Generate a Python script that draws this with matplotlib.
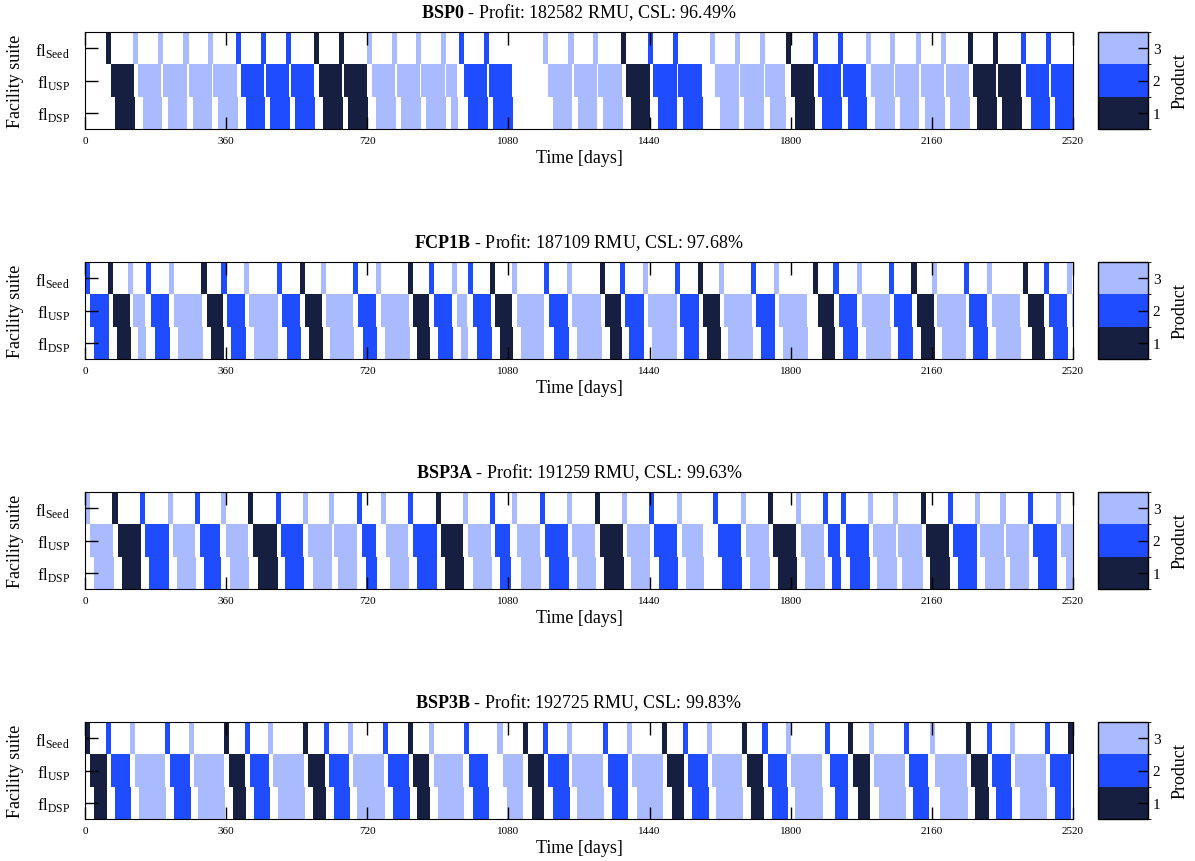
import matplotlib.pyplot as plt
import numpy as np
from matplotlib.cm import ScalarMappable
from matplotlib.colors import BoundaryNorm, ListedColormap

plt.rcParams["font.family"] = ["Liberation Serif", "DejaVu Serif"]
plt.rcParams["mathtext.fontset"] = "custom"
plt.rcParams["mathtext.rm"] = "Liberation Serif"
plt.rcParams["mathtext.it"] = "Liberation Serif:italic"
plt.rcParams["mathtext.bf"] = "Liberation Serif:bold"

# product colours: 1, 2, 3
product_colors = ["#161f40", "#1f4cff", "#a9bafe"]

# fixed stage lags (days)
SEED_DAYS = 13
DSP_LAG = 11
DSP_TAIL = 2

suites = [r"fl$_{\mathrm{DSP}}$", r"fl$_{\mathrm{USP}}$", r"fl$_{\mathrm{Seed}}$"]

# --- BSP0 ---
bsp0_product = [1, 3, 3, 3, 3, 2, 2, 2, 1, 1, 3, 3, 3, 3, 2, 2,
                3, 3, 3, 1, 2, 2, 3, 3, 3, 1, 2, 2, 3, 3, 3, 3, 1, 1, 2, 2]
bsp0_start = [66, 136, 200, 264, 327, 399, 462, 525, 597, 660, 731, 795, 858, 922, 966, 1030,
              1182, 1246, 1309, 1381, 1450, 1513, 1608, 1671, 1735, 1801, 1870, 1934,
              2004, 2067, 2132, 2196, 2264, 2328, 2401, 2464]
bsp0_end = [126, 195, 259, 323, 388, 457, 521, 585, 656, 720, 790, 854, 918, 950, 1026, 1090,
            1241, 1305, 1370, 1440, 1509, 1574, 1667, 1731, 1785, 1860, 1928, 1992,
            2063, 2126, 2192, 2255, 2323, 2387, 2460, 2524]

# --- FCP1B ---
fcp1b_product = [2, 1, 3, 2, 3, 1, 2, 3, 2, 1, 3, 2, 3, 1, 2, 3, 2, 1, 3, 2,
                 3, 1, 2, 3, 2, 1, 3, 2, 3, 1, 2, 3, 2, 1, 3, 2, 3, 1, 2, 3]
fcp1b_start = [13, 71, 123, 168, 227, 310, 361, 419, 503, 561, 614, 697, 754, 837, 890, 948,
               990, 1047, 1101, 1184, 1243, 1327, 1377, 1436, 1518, 1576, 1629, 1712, 1770,
               1870, 1922, 1981, 2063, 2121, 2174, 2255, 2313, 2405, 2458, 2518]
fcp1b_end = [60, 115, 153, 215, 298, 353, 408, 491, 548, 604, 684, 742, 827, 878, 936, 975,
             1035, 1090, 1170, 1232, 1316, 1368, 1425, 1509, 1565, 1620, 1702, 1759, 1842,
             1910, 1969, 2054, 2110, 2165, 2246, 2301, 2385, 2446, 2505, 2580]

# --- BSP3A ---
bsp3a_product = [3, 1, 2, 3, 2, 3, 1, 2, 3, 3, 2, 3, 2, 1, 3, 2, 3, 2, 3,
                 1, 3, 2, 3, 2, 3, 1, 3, 2, 2, 3, 3, 1, 2, 3, 3, 2, 3]
bsp3a_start = [13, 83, 153, 224, 293, 360, 429, 500, 570, 635, 706, 767, 837, 908, 978, 1047,
               1101, 1173, 1243, 1313, 1382, 1452, 1523, 1615, 1686, 1756, 1826, 1895, 1940,
               2010, 2074, 2145, 2215, 2284, 2348, 2419, 2490]
bsp3a_end = [72, 142, 213, 281, 344, 417, 489, 557, 629, 693, 742, 825, 897, 965, 1035, 1084,
             1161, 1232, 1302, 1373, 1440, 1511, 1576, 1674, 1745, 1813, 1885, 1926, 1999,
             2069, 2135, 2204, 2274, 2344, 2407, 2478, 2550]

# --- BSP3B ---
bsp3b_product = [1, 2, 3, 2, 3, 1, 2, 3, 1, 2, 3, 2, 1, 3, 2, 3, 1, 2, 3,
                 2, 3, 1, 2, 3, 1, 2, 3, 2, 1, 3, 2, 3, 1, 2, 3, 2, 1]
bsp3b_start = [13, 66, 128, 217, 278, 367, 421, 480, 570, 623, 684, 774, 837, 890, 979, 1065,
               1130, 1182, 1243, 1334, 1396, 1485, 1538, 1599, 1688, 1741, 1801, 1901, 1960,
               2013, 2101, 2169, 2260, 2313, 2373, 2462, 2519]
bsp3b_end = [55, 115, 204, 268, 355, 408, 469, 558, 612, 674, 762, 826, 878, 965, 1029, 1116,
             1170, 1234, 1322, 1384, 1473, 1527, 1590, 1676, 1729, 1791, 1880, 1945, 2001,
             2092, 2151, 2249, 2303, 2363, 2452, 2514, 2570]

panels = [
    ("BSP0", "182582", "96.49", bsp0_product, bsp0_start, bsp0_end),
    ("FCP1B", "187109", "97.68", fcp1b_product, fcp1b_start, fcp1b_end),
    ("BSP3A", "191259", "99.63", bsp3a_product, bsp3a_start, bsp3a_end),
    ("BSP3B", "192725", "99.83", bsp3b_product, bsp3b_start, bsp3b_end),
]

W, H = 1195, 862
fig = plt.figure(figsize=(W / 100, H / 100), dpi=100)

cmap = ListedColormap(product_colors)
norm = BoundaryNorm([0.5, 1.5, 2.5, 3.5], cmap.N)

tops = [33, 263, 493, 723]
for (name, profit, csl, prod, start, end), top in zip(panels, tops):
    ax = fig.add_axes([85 / W, 1 - (top + 97) / H, 988 / W, 97 / H])
    prod = np.array(prod)
    start = np.array(start, dtype=float)
    end = np.array(end, dtype=float)
    colors = [product_colors[p - 1] for p in prod]

    ax.barh(3, np.full(len(start), SEED_DAYS), left=start - SEED_DAYS, height=1,
            color=colors, edgecolor="none")
    ax.barh(2, end - start, left=start, height=1, color=colors, edgecolor="none")
    ax.barh(1, (end + DSP_TAIL) - (start + DSP_LAG), left=start + DSP_LAG, height=1,
            color=colors, edgecolor="none")

    ax.set_xlim(0, 2520)
    ax.set_ylim(0.5, 3.5)
    ax.set_xticks(np.arange(0, 2521, 360))
    ax.set_yticks([1, 2, 3])
    ax.set_yticklabels(suites)
    ax.tick_params(axis="x", direction="in", top=True, length=9, width=1,
                   labelsize=8, pad=5)
    ax.tick_params(axis="y", direction="in", length=9, width=1, labelsize=12, pad=11)
    ax.set_xlabel("Time [days]", fontsize=13, labelpad=3)
    ax.set_ylabel("Facility suite", fontsize=13, labelpad=8)
    ax.set_title(rf"$\mathbf{{{name}}}$ - Profit: {profit} RMU, CSL: {csl}%",
                 fontsize=13, pad=11)

    cax = fig.add_axes([1098 / W, 1 - (top + 97) / H, 50 / W, 97 / H])
    cb = fig.colorbar(ScalarMappable(norm=norm, cmap=cmap), cax=cax, ticks=[1, 2, 3])
    cb.ax.tick_params(direction="in", length=7, width=1, labelsize=11)
    cb.set_label("Product", fontsize=13, labelpad=8)
    cb.outline.set_linewidth(1)

fig.savefig("out.png", dpi=100)
